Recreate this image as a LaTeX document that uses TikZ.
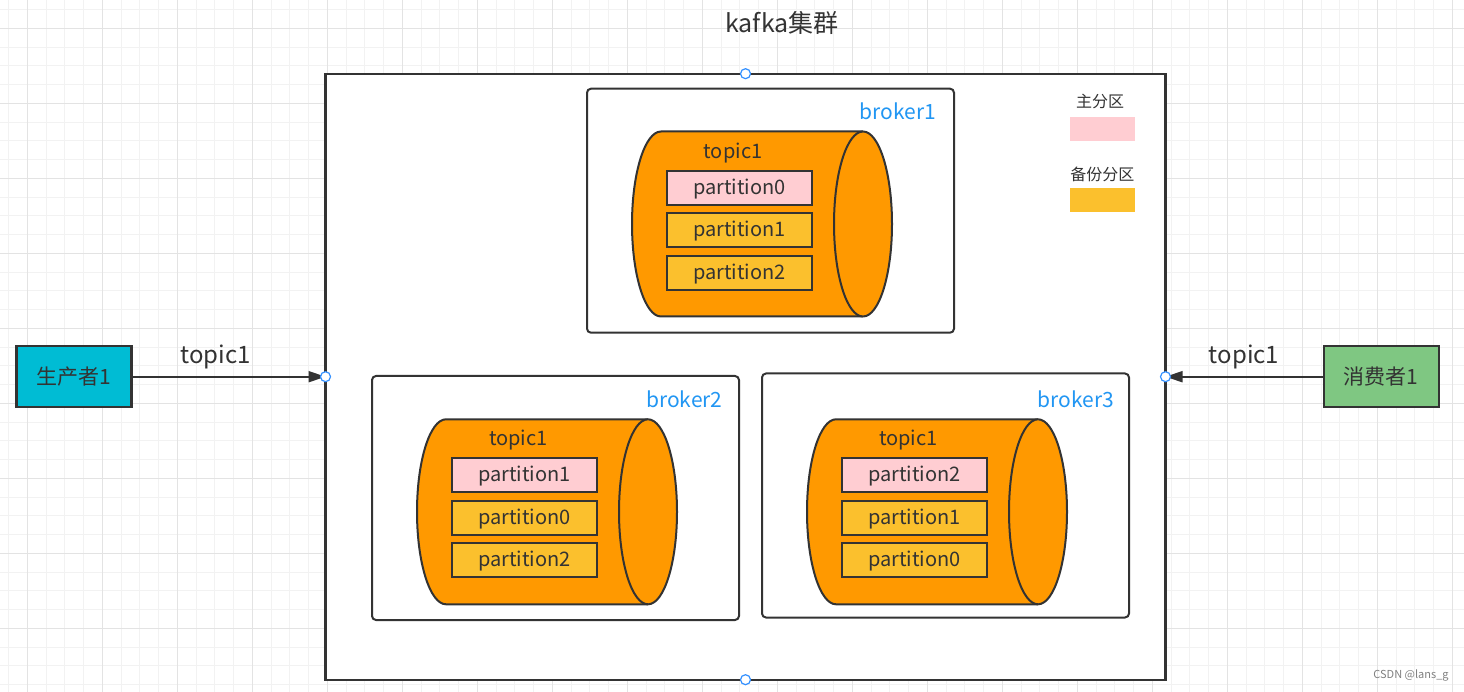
\documentclass[tikz,border=0pt]{standalone}
\usepackage{fontspec}
\setmainfont{Noto Sans CJK SC}
\usetikzlibrary{arrows.meta,positioning}
\definecolor{inkgray}{HTML}{333333}
\definecolor{minorline}{HTML}{F2F2F2}
\definecolor{majorline}{HTML}{E3E3E3}
\definecolor{brokerblue}{HTML}{2196F3}
\definecolor{portblue}{HTML}{3390FF}
\definecolor{topicorange}{HTML}{FF9900}
\definecolor{leaderpink}{HTML}{FFCDD2}
\definecolor{replicayellow}{HTML}{FBC02D}
\definecolor{producercyan}{HTML}{00BCD4}
\definecolor{consumergreen}{HTML}{7FC782}
\tikzset{%
  minorgrid/.style = {draw=minorline, line width=1pt},%
  majorgrid/.style = {draw=majorline, line width=1pt},%
  cluster/.style   = {draw=inkgray, line width=2.3pt, fill=white, outer sep=0pt,%
                      minimum width=840pt, minimum height=606pt},%
  broker/.style    = {draw=inkgray, line width=2pt, fill=white, rounded corners=4pt,%
                      minimum width=367pt, minimum height=244pt},%
  brokerlabel/.style = {text=brokerblue, font=\fontsize{21}{25}\selectfont},%
  topiccyl/.style  = {draw=inkgray, line width=2pt, fill=topicorange},%
  topiclabel/.style = {yshift=-2pt},%
  part/.style      = {draw=inkgray, line width=2pt, inner sep=0pt,%
                      minimum width=145pt, minimum height=34pt, text depth=4pt,%
                      text height=17pt, font=\fontsize{20}{24}\selectfont},%
  leader/.style    = {part, fill=leaderpink},%
  replica/.style   = {part, fill=replicayellow},%
  client/.style    = {draw=inkgray, line width=2.5pt, minimum width=115pt,%
                      minimum height=61pt, font=\fontsize{21}{25}\selectfont},%
  port/.style      = {circle, draw=portblue, fill=white, line width=1.2pt,%
                      inner sep=0pt, minimum size=10pt},%
  flow/.style      = {draw=inkgray, line width=2pt, -{Triangle[length=17pt,width=11pt]}},%
  swatch/.style    = {minimum width=65pt, minimum height=24pt, inner sep=0pt}%
}
\begin{document}
\begin{tikzpicture}[x=1pt,y=-1pt,
	every node/.style = {text=inkgray, font=\fontsize{20}{24}\selectfont}]
	\useasboundingbox (0,0) rectangle (1464,692);
	\fill[white] (0,0) rectangle (1464,692);
	% background grid
	\foreach \gx in {0,...,78}
		\draw[minorgrid] (8.55+18.75*\gx,0) -- (8.55+18.75*\gx,692);
	\foreach \gy in {0,...,36}
		\draw[minorgrid] (0,9.55+18.75*\gy) -- (1464,9.55+18.75*\gy);
	\foreach \gx in {0,...,19}
		\draw[majorgrid] (27.3+75*\gx,0) -- (27.3+75*\gx,692);
	\foreach \gy in {0,...,8}
		\draw[majorgrid] (0,28.3+75*\gy) -- (1464,28.3+75*\gy);
	% cluster
	\node[font=\fontsize{25}{30}\selectfont] (title) at (782,23) {kafka集群};
	\node[cluster] (cluster) at (745.5,376.7) {};
	\node[broker] (broker1) at (770.5,210.7) {};
	\node[broker] (broker2) at (555.5,498) {};
	\node[broker] (broker3) at (945.5,495.5) {};
	\node[brokerlabel] (b1label) at (898,111.7) {broker1};
	\node[brokerlabel] (b2label) at (684.3,399) {broker2};
	\node[brokerlabel] (b3label) at (1075.7,399) {broker3};
	% topics
	\foreach \cx/\cy in {632/131.5,417/419.3,807/419.3}{
		\filldraw[topiccyl] (\cx+231,\cy) -- (\cx+29,\cy)
			arc[start angle=-90, end angle=-270, x radius=29, y radius=92.5]
			-- (\cx+231,\cy+185)
			arc[start angle=90, end angle=-90, x radius=29, y radius=92.5] -- cycle;
		\draw[topiccyl] (\cx+231,\cy)
			arc[start angle=-90, end angle=-270, x radius=29, y radius=92.5];
	}
	\node[topiclabel] (t1topic) at (733,151) {topic1};
	\node[leader]  (b1p0) at (739.3,187.8) {partition0};
	\node[replica] (b1p1) at (739.3,229.8) {partition1};
	\node[replica] (b1p2) at (739.3,272.8) {partition2};
	\node[topiclabel] (t2topic) at (518.3,438.3) {topic1};
	\node[leader]  (b2p1) at (524.5,475) {partition1};
	\node[replica] (b2p0) at (524.5,517.8) {partition0};
	\node[replica] (b2p2) at (524.5,560.2) {partition2};
	\node[topiclabel] (t3topic) at (908.3,438.3) {topic1};
	\node[leader]  (b3p2) at (914.5,475) {partition2};
	\node[replica] (b3p1) at (914.5,517.8) {partition1};
	\node[replica] (b3p0) at (914.5,560.2) {partition0};
	% legend
	\node[font=\fontsize{16}{19}\selectfont] (legmain) at (1100,101.7) {主分区};
	\node[swatch, fill=leaderpink] (legmainbox) at (1102.5,129.5) {};
	\node[font=\fontsize{16}{19}\selectfont] (legcopy) at (1102.3,174) {备份分区};
	\node[swatch, fill=replicayellow] (legcopybox) at (1102.5,199.7) {};
	% clients
	\node[client, fill=producercyan] (producer) at (73.8,376.7) {生产者1};
	\node[client, fill=consumergreen] (consumer) at (1381.3,376.7) {消费者1};
	\draw[flow] (producer.east) -- node[pos=.43, yshift=20pt,
		font=\fontsize{24}{28}\selectfont] (inlabel) {topic1} (cluster.west);
	\draw[flow] (consumer.west) -- node[pos=.5, yshift=20pt,
		font=\fontsize{24}{28}\selectfont] (outlabel) {topic1} (cluster.east);
	\node[port] (portn) at (cluster.north) {};
	\node[port] (ports) at (cluster.south) {};
	\node[port] (portw) at (cluster.west) {};
	\node[port] (porte) at (cluster.east) {};
	\node[text=gray, font=\fontsize{11}{13}\selectfont] (mark) at (1411,675.7) {CSDN @lans\_g};
\end{tikzpicture}
\end{document}
